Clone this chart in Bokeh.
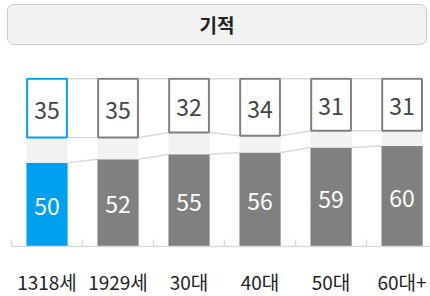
from bokeh.plotting import figure
from bokeh.models import Range1d, FixedTicker, ColumnDataSource, Div, LabelSet
from bokeh.core.properties import value
from bokeh.layouts import column
from bokeh.embed import file_html
from bokeh.resources import INLINE

title = "기적"
categories = ["1318세", "1929세", "30대", "40대", "50대", "60대+"]
bottom_vals = [50, 52, 55, 56, 59, 60]
top_vals = [35, 35, 32, 34, 31, 31]

BLUE = "#00a0f0"
GRAY = "#808080"
MID = "#f2f2f2"
LINE = "#d9d9d9"
FONT = "Noto Sans CJK KR"

n = len(categories)
xs = list(range(n))
w = 0.58
fills = [BLUE] + [GRAY] * (n - 1)

src = ColumnDataSource(dict(
    x=xs,
    b_top=bottom_vals,
    t_bot=[100 - t for t in top_vals],
    b_mid=[b / 2 for b in bottom_vals],
    t_mid=[100 - t / 2 for t in top_vals],
    fill=fills,
    b_lab=[str(v) for v in bottom_vals],
    t_lab=[str(v) for v in top_vals],
))

p = figure(frame_width=419, frame_height=169, output_backend="svg", toolbar_location=None,
           x_range=Range1d(-0.5, 5.40), y_range=Range1d(0, 100.8),
           min_border_left=11, min_border_right=0, min_border_top=32, min_border_bottom=0)
p.outline_line_color = None
p.grid.visible = False
p.yaxis.visible = False

# connector lines
cx0, cx1, cy0, cy1 = [], [], [], []
for i in range(n - 1):
    for a, b in [(bottom_vals[i], bottom_vals[i + 1]),
                 (100 - top_vals[i], 100 - top_vals[i + 1]),
                 (100, 100)]:
        cx0.append(i + w / 2); cx1.append(i + 1 - w / 2)
        cy0.append(a); cy1.append(b)
p.segment(x0=cx0, y0=cy0, x1=cx1, y1=cy1, line_color=LINE, line_width=1.5)

# bars
p.vbar(x="x", bottom=0, top="b_top", width=w, fill_color="fill", line_color=None, source=src)
p.vbar(x="x", bottom="b_top", top="t_bot", width=w, fill_color=MID, line_color=None, source=src)
p.vbar(x="x", bottom="t_bot", top=100, width=w - 0.02, fill_color="white", line_color="fill",
       line_width=2, source=src)

p.add_layout(LabelSet(x="x", y="b_mid", text="b_lab", source=src, text_align="center",
                      text_baseline="middle", text_color="white", text_font=value(FONT),
                      text_font_size="23px", y_offset=-2))
p.add_layout(LabelSet(x="x", y="t_mid", text="t_lab", source=src, text_align="center",
                      text_baseline="middle", text_color="#444444", text_font=value(FONT),
                      text_font_size="23px", y_offset=-2))

ax = p.xaxis[0]
ax.ticker = FixedTicker(ticks=xs, minor_ticks=[i - 0.5 for i in xs])
ax.major_label_overrides = {i: c for i, c in enumerate(categories)}
ax.major_tick_in = 0
ax.major_tick_out = 0
ax.minor_tick_in = 7
ax.minor_tick_out = 0
ax.minor_tick_line_color = LINE
ax.minor_tick_line_width = 1.5
ax.axis_line_color = LINE
ax.axis_line_width = 1.5
ax.major_label_standoff = 21
ax.major_label_text_font = FONT
ax.major_label_text_font_size = "19px"
ax.major_label_text_color = "#222222"

hdr = Div(text=(
    '<div style="width:420px;height:41px;'
    'box-sizing:border-box;background:#f2f2f2;border:1.5px solid #cccccc;'
    'border-radius:7px;display:flex;align-items:center;justify-content:center;'
    'font-family:\'Noto Sans CJK KR\';font-weight:bold;font-size:19px;color:#222;">'
    + title + '</div>'), width=420, height=41, margin=(4, 0, 0, 7))

p.margin = (0, 0, 0, 0)
layout = column(hdr, p, spacing=0, margin=(0, 0, 0, 0))

open("out.html", "w").write(file_html(layout, INLINE))
